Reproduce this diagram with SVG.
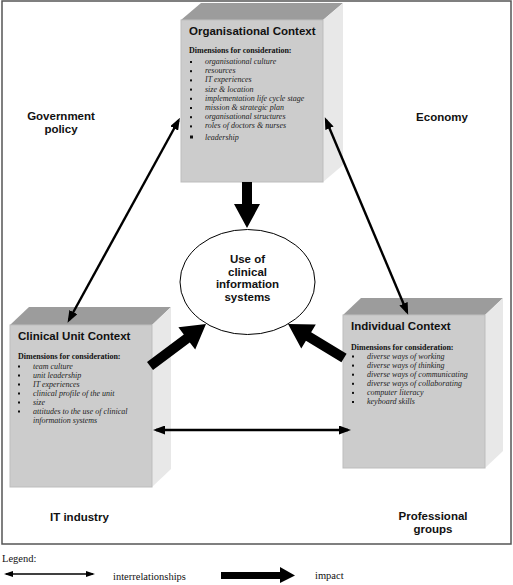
<svg xmlns="http://www.w3.org/2000/svg" width="513" height="585" viewBox="0 0 513 585">
<defs>
<style>
.front{fill:#cccccc;stroke:#bdbdbd;stroke-width:1}
.top{fill:#9c9c9c}
.side{fill:#e8e8e8}
.ttl{font-family:"Liberation Sans",Arial,sans-serif;font-weight:bold;font-size:11.5px;fill:#111}
.dim{font-family:"Liberation Serif","Times New Roman",serif;font-weight:bold;font-size:8px;fill:#111}
.itm{font-family:"Liberation Serif","Times New Roman",serif;font-style:italic;font-size:8px;fill:#222}
.leg{font-family:"Liberation Serif","Times New Roman",serif;font-size:10.5px;fill:#111}
.thin{stroke:#000;stroke-width:2.4;fill:none;marker-start:url(#ah);marker-end:url(#ah)}
.thick{fill:#000}
</style>
<marker id="ah" markerUnits="userSpaceOnUse" markerWidth="12" markerHeight="9" refX="9" refY="4.5" orient="auto-start-reverse" viewBox="0 0 12 9">
<path d="M0,0 L12,4.5 L0,9 z" fill="#000"/>
</marker>
<marker id="ahs" markerUnits="userSpaceOnUse" markerWidth="9" markerHeight="6" refX="7" refY="3" orient="auto-start-reverse" viewBox="0 0 9 6">
<path d="M0,0 L9,3 L0,6 z" fill="#000"/>
</marker>
</defs>
<rect x="0" y="0" width="513" height="585" fill="#ffffff"/>
<rect id="frame" x="2" y="1" width="509" height="543" fill="none" stroke="#555" stroke-width="1.5"/>

<g id="environment">
<text class="ttl" x="61" y="120" text-anchor="middle">Government</text>
<text class="ttl" x="61" y="133" text-anchor="middle">policy</text>
<text class="ttl" x="442" y="121" text-anchor="middle">Economy</text>
<text class="ttl" x="50" y="521">IT industry</text>
<text class="ttl" x="433" y="520" text-anchor="middle">Professional</text>
<text class="ttl" x="433" y="533" text-anchor="middle">groups</text>
</g>

<g id="organisational">
<polygon class="top" points="181,20 323,20 343,3 201,3"/>
<polygon class="side" points="323,20 343,3 343,165 323,182"/>
<rect class="front" x="181" y="20" width="142" height="162"/>
<text class="ttl" x="189" y="35">Organisational Context</text>
<text class="dim" x="189" y="53">Dimensions for consideration:</text>
<g fill="#111">
<rect x="190" y="61" width="2" height="2"/>
<rect x="190" y="70.2" width="2" height="2"/>
<rect x="190" y="79.4" width="2" height="2"/>
<rect x="190" y="88.6" width="2" height="2"/>
<rect x="190" y="97.8" width="2" height="2"/>
<rect x="190" y="107" width="2" height="2"/>
<rect x="190" y="116.2" width="2" height="2"/>
<rect x="190" y="125.4" width="2" height="2"/>
<rect x="190" y="135.5" width="3" height="3"/>
</g>
<text class="itm" x="205" y="64">organisational culture</text>
<text class="itm" x="205" y="73.2">resources</text>
<text class="itm" x="205" y="82.4">IT experiences</text>
<text class="itm" x="205" y="91.6">size &amp; location</text>
<text class="itm" x="205" y="100.8">implementation life cycle stage</text>
<text class="itm" x="205" y="110">mission &amp; strategic plan</text>
<text class="itm" x="205" y="119.2">organisational structures</text>
<text class="itm" x="205" y="128.4">roles of doctors &amp; nurses</text>
<text class="itm" x="205" y="139.5">leadership</text>
</g>

<g id="clinical">
<polygon class="top" points="10,325 152,325 171,307 29,307"/>
<polygon class="side" points="152,325 171,307 171,469 152,487"/>
<rect class="front" x="10" y="325" width="142" height="162"/>
<text class="ttl" x="18" y="340">Clinical Unit Context</text>
<text class="dim" x="18" y="358.5">Dimensions for consideration:</text>
<g fill="#111">
<rect x="18" y="365.5" width="2" height="2"/>
<rect x="18" y="374.5" width="2" height="2"/>
<rect x="18" y="383.5" width="2" height="2"/>
<rect x="18" y="392.5" width="2" height="2"/>
<rect x="18" y="401.5" width="2" height="2"/>
<rect x="18" y="410.5" width="2" height="2"/>
</g>
<text class="itm" x="33" y="368.5">team culture</text>
<text class="itm" x="33" y="377.5">unit leadership</text>
<text class="itm" x="33" y="386.5">IT experiences</text>
<text class="itm" x="33" y="395.5">clinical profile of the unit</text>
<text class="itm" x="33" y="404.5">size</text>
<text class="itm" x="33" y="413.5">attitudes to the use of clinical</text>
<text class="itm" x="33" y="423">information systems</text>
</g>

<g id="individual">
<polygon class="top" points="343,315 485,315 503,298 361,298"/>
<polygon class="side" points="485,315 503,298 503,451 485,468"/>
<rect class="front" x="343" y="315" width="142" height="153"/>
<text class="ttl" x="351" y="330">Individual Context</text>
<text class="dim" x="351" y="350">Dimensions for consideration:</text>
<g fill="#111">
<rect x="352" y="355.5" width="2" height="2"/>
<rect x="352" y="364.6" width="2" height="2"/>
<rect x="352" y="373.7" width="2" height="2"/>
<rect x="352" y="382.8" width="2" height="2"/>
<rect x="352" y="391.9" width="2" height="2"/>
<rect x="352" y="401" width="2" height="2"/>
</g>
<text class="itm" x="367" y="358.5">diverse ways of working</text>
<text class="itm" x="367" y="367.6">diverse ways of thinking</text>
<text class="itm" x="367" y="376.7">diverse ways of communicating</text>
<text class="itm" x="367" y="385.8">diverse ways of collaborating</text>
<text class="itm" x="367" y="394.9">computer literacy</text>
<text class="itm" x="367" y="404">keyboard skills</text>
</g>

<g id="use">
<ellipse cx="247.5" cy="282" rx="67.5" ry="52.5" fill="#fff" stroke="#000" stroke-width="1"/>
<text class="ttl" x="247.5" y="263" text-anchor="middle">Use of</text>
<text class="ttl" x="247.5" y="275.7" text-anchor="middle">clinical</text>
<text class="ttl" x="247.5" y="288.4" text-anchor="middle">information</text>
<text class="ttl" x="247.5" y="301" text-anchor="middle">systems</text>
</g>

<g id="connectors">
<line class="thin" x1="178.5" y1="120.5" x2="69" y2="320"/>
<line class="thin" x1="326" y1="120" x2="407" y2="312"/>
<line class="thin" x1="156" y1="430" x2="348" y2="430"/>
<polygon class="thick" points="242,182 252,182 252,204 260,204 247,228 234,204 242,204"/>
<polygon class="thick" transform="translate(150,366) rotate(-36.87)" points="0,-5 46,-5 46,-14 70,0 46,14 46,5 0,5"/>
<polygon class="thick" transform="translate(344,358) rotate(-148.7)" points="0,-5 41.5,-5 41.5,-14 65.5,0 41.5,14 41.5,5 0,5"/>
</g>

<g id="legend">
<text class="leg" x="2" y="562">Legend:</text>
<line x1="6" y1="574" x2="93" y2="574" stroke="#000" stroke-width="1.4" marker-start="url(#ahs)" marker-end="url(#ahs)"/>
<text class="leg" x="113" y="580">interrelationships</text>
<polygon class="thick" points="221,572 280,572 280,567 295,575.5 280,583 280,579 221,579"/>
<text class="leg" x="315" y="579">impact</text>
</g>
</svg>
